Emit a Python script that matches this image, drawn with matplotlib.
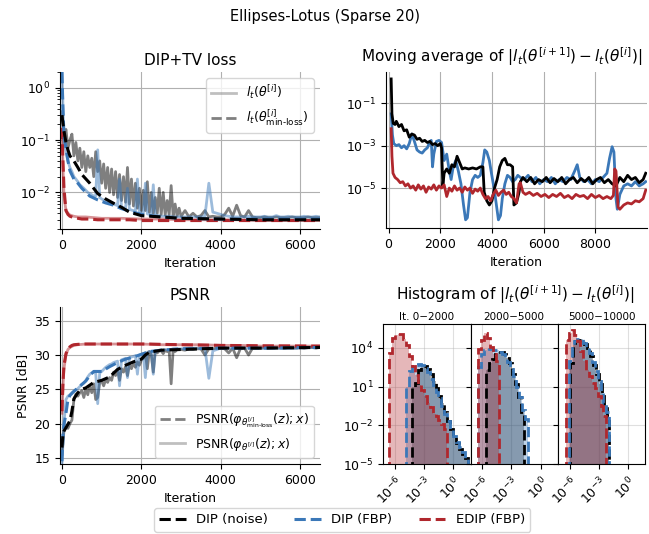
import numpy as np
import matplotlib
matplotlib.use("Agg")
import matplotlib.pyplot as plt
from matplotlib.lines import Line2D
from matplotlib.ticker import NullLocator

plt.rcParams["font.size"] = 9
plt.rcParams["axes.titlesize"] = 11
plt.rcParams["mathtext.fontset"] = "dejavusans"

C_NOISE = "black"
C_FBP = "#3b78b8"
C_EDIP = "#b0272d"

method_labels = ["DIP (noise)", "DIP (FBP)", "EDIP (FBP)"]

# ---------------------------------------------------------------- loss curves
# raw iterations shared by the DIP runs (dense early, coarser later)
it_raw = np.concatenate([np.arange(0, 3000, 50), np.arange(3000, 6501, 100)])

loss_raw_noise = [
    0.35, 0.12, 0.16, 0.07, 0.10, 0.13, 0.05, 0.09, 0.04, 0.07,
    0.03, 0.06, 0.025, 0.05, 0.03, 0.045, 0.02, 0.06, 0.025, 0.04,
    0.015, 0.035, 0.012, 0.03, 0.01, 0.028, 0.009, 0.025, 0.008, 0.022,
    0.007, 0.02, 0.0065, 0.03, 0.006, 0.018, 0.0055, 0.015, 0.005, 0.012,
    0.0045, 0.011, 0.0045, 0.016, 0.0042, 0.01, 0.004, 0.008, 0.004, 0.012,
    0.0038, 0.01, 0.0037, 0.007, 0.0037, 0.0135, 0.0036, 0.006, 0.0035, 0.005,
    0.0035, 0.0045, 0.0034, 0.004, 0.0034, 0.0036, 0.0045, 0.0034, 0.0035, 0.0034,
    0.0034, 0.0038, 0.005, 0.0035, 0.0057, 0.0036, 0.0034, 0.0045, 0.0034, 0.0033,
    0.0033, 0.0034, 0.0033, 0.0033, 0.0034, 0.0033, 0.0033, 0.0033, 0.0034, 0.0033,
    0.0033, 0.0033, 0.0034, 0.0033, 0.0033, 0.0033,
]
loss_raw_fbp = [
    2.0, 0.09, 0.06, 0.04, 0.03, 0.025, 0.02, 0.018, 0.016, 0.014,
    0.013, 0.012, 0.011, 0.010, 0.0095, 0.009, 0.0085, 0.0085, 0.065, 0.008,
    0.0075, 0.0072, 0.007, 0.0068, 0.0065, 0.0062, 0.006, 0.0058, 0.0056, 0.018,
    0.0053, 0.0051, 0.005, 0.012, 0.0048, 0.0046, 0.0045, 0.0044, 0.018, 0.0042,
    0.0041, 0.004, 0.015, 0.0039, 0.0038, 0.0038, 0.014, 0.0037, 0.0036, 0.0036,
    0.0035, 0.0035, 0.0035, 0.0035, 0.0035, 0.0035, 0.0034, 0.0034, 0.0034, 0.0034,
    0.0034, 0.0034, 0.0034, 0.0034, 0.0034, 0.0034, 0.0035, 0.015, 0.0042, 0.004,
    0.0038, 0.0036, 0.0035, 0.0034, 0.0034, 0.0034, 0.0034, 0.0035, 0.0034, 0.0034,
    0.0034, 0.0035, 0.0034, 0.0034, 0.0036, 0.0034, 0.0034, 0.0035, 0.0034, 0.0034,
    0.0034, 0.0035, 0.0034, 0.0034, 0.0035, 0.0034,
]
it_raw_edip = [0, 25, 50, 100, 150, 200, 300, 400, 600, 800, 1000, 1500, 2000,
               2500, 3000, 3500, 4000, 4500, 5000, 5500, 6000, 6500]
loss_raw_edip = [0.17, 0.03, 0.009, 0.0045, 0.004, 0.0037, 0.0035, 0.0034,
                 0.0034, 0.0033, 0.0032, 0.0032, 0.0031, 0.0031, 0.003, 0.003,
                 0.003, 0.003, 0.0029, 0.0029, 0.0029, 0.0029]

it_min = [0, 20, 50, 100, 150, 200, 300, 400, 500, 700, 900, 1100, 1300, 1500,
          1700, 2000, 2500, 3000, 4000, 5000, 6500]
loss_min_noise = [0.30, 0.22, 0.15, 0.09, 0.065, 0.05, 0.04, 0.03, 0.022, 0.015,
                  0.0095, 0.0075, 0.0062, 0.0052, 0.0042, 0.0036, 0.0034, 0.0032,
                  0.0031, 0.0030, 0.0030]
loss_min_fbp = [2.0, 0.5, 0.12, 0.07, 0.04, 0.026, 0.018, 0.015, 0.012, 0.0085,
                0.0072, 0.0063, 0.0057, 0.0049, 0.0044, 0.0038, 0.0034, 0.0032,
                0.0031, 0.0031, 0.0031]
loss_min_edip = [0.17, 0.05, 0.012, 0.0045, 0.0038, 0.0035, 0.0033, 0.0032,
                 0.0031, 0.0031, 0.0030, 0.0030, 0.0030, 0.0030, 0.0030, 0.0029,
                 0.0029, 0.0029, 0.0029, 0.0029, 0.0029]

# ---------------------------------------------------------------- PSNR curves
psnr_raw_noise = [
    15.5, 19.0, 19.5, 19.3, 20.0, 20.5, 23.5, 24.3, 24.0, 24.5,
    24.8, 23.8, 25.0, 24.2, 25.5, 24.5, 25.8, 23.5, 23.8, 26.0,
    26.2, 25.5, 26.4, 26.0, 26.7, 26.3, 27.5, 27.0, 27.8, 26.3,
    28.0, 27.5, 28.3, 27.0, 28.6, 28.0, 28.8, 28.2, 29.0, 28.5,
    29.3, 29.5, 30.3, 28.0, 30.5, 30.0, 27.5, 30.6, 30.3, 30.6,
    30.6, 30.2, 30.7, 30.5, 30.7, 25.8, 30.7, 30.5, 30.8, 30.8,
    30.8, 30.7, 30.9, 30.8, 30.9, 30.9, 30.0, 30.9, 30.9, 31.0,
    31.0, 30.9, 30.3, 31.0, 29.6, 31.0, 31.0, 30.0, 31.0, 31.0,
    31.0, 31.0, 31.0, 31.0, 31.0, 31.0, 31.0, 31.1, 31.0, 31.0,
    31.1, 31.0, 31.1, 31.1, 31.0, 31.1,
]
psnr_raw_fbp = [
    14.3, 20.0, 23.5, 24.0, 24.2, 24.5, 24.7, 24.9, 25.1, 25.4,
    25.7, 25.9, 26.3, 26.8, 27.2, 27.4, 27.5, 27.3, 22.9, 27.4,
    27.6, 27.9, 28.2, 28.4, 28.6, 28.7, 28.9, 29.0, 29.1, 25.5,
    29.3, 29.4, 29.5, 26.7, 29.6, 29.7, 29.8, 29.9, 27.2, 30.0,
    30.1, 30.2, 26.7, 30.4, 30.5, 30.5, 27.2, 30.6, 30.6, 30.7,
    30.7, 30.7, 30.8, 30.8, 30.8, 30.8, 30.9, 30.9, 30.9, 30.9,
    30.9, 31.0, 31.0, 31.0, 31.0, 31.0, 31.0, 26.6, 30.6, 30.8,
    31.0, 31.0, 31.0, 31.0, 31.0, 31.0, 31.0, 31.0, 31.0, 31.0,
    31.0, 31.0, 31.0, 31.0, 31.0, 31.0, 31.0, 31.0, 31.0, 31.0,
    31.1, 31.1, 31.1, 31.1, 31.1, 31.1,
]
psnr_raw_edip = [21.5, 25.5, 28.0, 30.0, 30.8, 31.1, 31.4, 31.5, 31.6, 31.6,
                 31.6, 31.6, 31.6, 31.5, 31.5, 31.5, 31.4, 31.4, 31.3, 31.3,
                 31.3, 31.3]

it_psnr_min = [0, 25, 50, 100, 150, 200, 250, 300, 400, 500, 600, 700, 800,
               1000, 1200, 1400, 1600, 1800, 2000, 2100, 2200, 2500, 3000,
               4000, 5000, 6500]
psnr_min_noise = [16.5, 18.5, 18.9, 19.4, 19.9, 20.4, 21.8, 23.6, 24.5, 25.0,
                  25.2, 25.6, 26.0, 26.3, 26.8, 27.9, 28.5, 29.0, 29.4, 30.0,
                  30.4, 30.7, 30.8, 31.0, 31.0, 31.1]
psnr_min_fbp = [14.5, 18.5, 19.8, 21.5, 23.5, 24.1, 24.4, 24.7, 25.2, 25.7,
                26.2, 27.0, 27.6, 27.6, 28.3, 28.9, 29.4, 29.7, 30.1, 30.3,
                30.5, 30.7, 30.9, 31.0, 31.0, 31.1]
psnr_min_edip = [21.8, 26.0, 28.5, 30.2, 30.9, 31.2, 31.4, 31.5, 31.55, 31.6,
                 31.6, 31.6, 31.6, 31.6, 31.6, 31.6, 31.6, 31.6, 31.6, 31.6,
                 31.6, 31.55, 31.5, 31.4, 31.35, 31.3]

# ------------------------------------ moving average (iteration, log10 value)
ma_noise = [
    (100, 0.15), (130, -1.5), (180, -1.95), (250, -2.0), (300, -1.85),
    (400, -2.1), (500, -2.0), (600, -2.3), (700, -2.25), (800, -2.6),
    (900, -2.45), (1000, -2.5), (1100, -2.7), (1200, -2.65), (1300, -2.8),
    (1400, -2.75), (1500, -2.85), (1600, -2.8), (1700, -2.95), (1800, -2.9),
    (1900, -3.0), (2000, -2.9), (2050, -3.1), (2100, -4.9), (2150, -4.3),
    (2250, -4.1), (2350, -4.3), (2450, -3.9), (2550, -4.0), (2650, -3.5),
    (2750, -3.8), (2850, -4.1), (2950, -4.05), (3100, -4.1), (3250, -4.05),
    (3400, -4.1), (3550, -4.0), (3650, -4.0), (3700, -5.2), (3800, -5.6),
    (3900, -5.8), (4000, -5.6), (4100, -5.0), (4200, -4.6), (4300, -4.0),
    (4400, -3.7), (4500, -3.6), (4600, -3.9), (4700, -3.9), (4800, -4.0),
    (4850, -5.8), (4950, -5.7), (5050, -5.2), (5100, -4.7), (5200, -4.5),
    (5350, -4.7), (5500, -4.5), (5650, -4.8), (5800, -4.6), (5950, -4.7),
    (6100, -4.5), (6250, -4.75), (6400, -4.55), (6550, -4.7), (6700, -4.5),
    (6850, -4.8), (7000, -4.6), (7150, -4.5), (7300, -4.75), (7450, -4.55),
    (7600, -4.7), (7750, -4.5), (7900, -4.8), (8050, -4.6), (8200, -4.5),
    (8350, -4.75), (8500, -4.6), (8650, -4.8), (8800, -4.9), (8950, -4.5),
    (9100, -4.7), (9250, -4.4), (9400, -4.6), (9550, -4.5), (9700, -4.75),
    (9850, -4.6), (9950, -4.3),
]
ma_fbp = [
    (100, -1.5), (150, -2.5), (200, -2.9), (300, -3.0), (400, -2.95),
    (500, -3.1), (600, -3.0), (700, -3.15), (800, -2.9), (900, -2.45),
    (1000, -2.8), (1100, -3.2), (1200, -3.3), (1300, -3.35), (1400, -3.2),
    (1500, -3.1), (1600, -2.8), (1650, -2.75), (1700, -4.0), (1750, -3.4),
    (1850, -2.8), (1950, -2.75), (2050, -2.85), (2150, -3.7), (2250, -3.4),
    (2350, -4.2), (2420, -4.6), (2500, -4.0), (2600, -3.7), (2700, -4.2),
    (2800, -4.8), (2900, -5.8), (2980, -6.5), (3050, -6.4), (3150, -5.2),
    (3250, -4.6), (3350, -4.4), (3450, -4.5), (3550, -4.4), (3650, -3.8),
    (3720, -3.2), (3800, -3.3), (3900, -3.7), (3980, -4.3), (4080, -5.0),
    (4150, -5.6), (4250, -6.5), (4330, -6.3), (4400, -5.5), (4500, -4.8),
    (4600, -4.4), (4700, -4.5), (4800, -4.7), (4900, -4.6), (5000, -4.4),
    (5100, -4.5), (5250, -4.6), (5400, -4.4), (5550, -4.7), (5700, -4.5),
    (5850, -4.8), (6000, -4.6), (6150, -4.7), (6300, -4.5), (6450, -4.8),
    (6600, -4.6), (6750, -4.7), (6900, -4.5), (7050, -4.6), (7200, -4.2),
    (7300, -3.9), (7400, -4.5), (7550, -4.7), (7700, -4.6), (7850, -4.8),
    (8000, -4.6), (8150, -4.7), (8300, -4.5), (8450, -4.3), (8550, -3.6),
    (8650, -3.05), (8720, -3.3), (8800, -5.5), (8850, -6.0), (8950, -5.3),
    (9100, -4.9), (9250, -4.8), (9400, -4.9), (9550, -4.7), (9700, -4.9),
    (9850, -4.8), (9950, -4.7),
]
ma_edip = [
    (100, -2.2), (130, -3.5), (170, -4.3), (250, -4.5), (350, -4.6),
    (450, -4.75), (550, -4.7), (650, -4.9), (750, -4.8), (850, -5.0),
    (950, -4.9), (1050, -5.1), (1150, -4.85), (1250, -5.05), (1350, -4.9),
    (1450, -5.2), (1550, -4.95), (1650, -5.05), (1750, -4.85), (1850, -5.1),
    (1950, -4.9), (2050, -5.0), (2150, -4.85), (2250, -5.4), (2350, -5.0),
    (2450, -5.15), (2550, -4.9), (2650, -5.1), (2750, -5.0), (2850, -5.2),
    (2950, -4.95), (3050, -5.1), (3150, -5.0), (3250, -5.25), (3350, -5.05),
    (3450, -5.15), (3550, -5.0), (3650, -5.3), (3750, -5.5), (3850, -5.4),
    (3950, -5.6), (4050, -5.3), (4150, -5.1), (4250, -5.35), (4350, -5.2),
    (4450, -5.1), (4550, -5.3), (4650, -5.2), (4750, -5.4), (4850, -5.5),
    (4950, -5.7), (5050, -4.8), (5100, -4.75), (5200, -5.2), (5300, -5.3),
    (5450, -5.2), (5600, -5.35), (5750, -5.25), (5900, -5.4), (6050, -5.3),
    (6200, -5.45), (6350, -5.3), (6500, -5.4), (6650, -5.25), (6800, -5.45),
    (6950, -5.35), (7100, -5.5), (7250, -5.3), (7400, -5.4), (7550, -5.35),
    (7700, -5.5), (7850, -5.3), (8000, -5.45), (8150, -5.35), (8300, -5.5),
    (8450, -5.4), (8600, -5.5), (8700, -5.35), (8750, -4.1), (8800, -4.2),
    (8880, -5.9), (8950, -6.0), (9100, -5.8), (9250, -5.7), (9400, -5.75),
    (9550, -5.6), (9700, -5.65), (9850, -5.5), (9950, -5.1),
]

# ------------------------------------------- histograms (log10 edges / density)
hist_titles = ["It. 0\u22122000", "2000\u22125000", "5000\u221210000"]

h1_edges_noise = [-4.2, -3.9, -3.6, -3.3, -3.0, -2.7, -2.4, -2.1, -1.8, -1.5,
                  -1.2, -0.9, -0.6, -0.3, 0.0, 0.3, 0.6, 0.9, 1.2, 1.5]
h1_noise = [1.0, 1.3, 2.3, 2.6, 2.6, 2.4, 2.0, 1.4, 0.9, 0.3, -0.3, -1.0,
            -1.7, -2.3, -2.9, -3.4, -3.8, -4.2, -4.5]
h1_edges_fbp = [-4.8, -4.5, -4.2, -3.9, -3.6, -3.3, -3.0, -2.7, -2.4, -2.1,
                -1.8, -1.5, -1.2, -0.9, -0.6, -0.3, 0.0, 0.3, 0.6, 0.9, 1.2, 1.5]
h1_fbp = [1.0, 2.2, 2.6, 2.7, 2.75, 2.7, 2.45, 2.1, 1.6, 1.1, 0.6, 0.1, -0.5,
          -1.1, -1.7, -2.3, -2.8, -3.3, -3.7, -4.1, -4.5]
h1_edges_edip = [-6.6, -6.3, -6.0, -5.7, -5.4, -5.1, -4.8, -4.5, -4.2, -3.9,
                 -3.6, -3.3, -3.0, -2.7, -2.4, -2.1, -1.8, -1.5, -1.2, -0.9, -0.6]
h1_edip = [3.6, 4.8, 5.0, 5.1, 5.05, 4.7, 4.2, 3.4, 2.6, 1.9, 1.1, 0.7, 0.3,
           -0.3, -0.6, -1.1, -1.3, -1.6, -1.9, -2.3]

h2_edges_noise = [-5.6, -5.3, -5.0, -4.7, -4.4, -4.1, -3.8, -3.5, -3.2, -2.9,
                  -2.6, -2.3, -2.0, -1.7]
h2_noise = [2.3, 2.8, 3.1, 3.5, 3.7, 3.65, 3.55, 3.2, 2.8, 2.0, 1.2, 0.2, -1.0]
h2_edges_fbp = [-6.4, -6.1, -5.8, -5.5, -5.2, -4.9, -4.6, -4.3, -4.0, -3.7,
                -3.4, -3.1, -2.8, -2.5, -2.2, -1.9, -1.6, -1.3]
h2_fbp = [2.5, 3.5, 3.8, 3.9, 3.9, 3.85, 3.8, 3.7, 3.5, 3.3, 2.9, 2.4, 1.8,
          1.0, 0.2, -0.8, -1.5]
h2_edges_edip = [-6.4, -6.1, -5.8, -5.5, -5.2, -4.9, -4.6, -4.3]
h2_edip = [3.9, 4.6, 5.15, 4.8, 4.1, 3.5, 3.0]

h3_edges_noise = [-6.0, -5.7, -5.4, -5.1, -4.8, -4.5, -4.2, -3.9, -3.6, -3.3,
                  -3.0, -2.7, -2.4, -2.1, -1.9]
h3_noise = [2.8, 4.2, 4.5, 4.6, 4.55, 4.3, 4.0, 3.4, 2.7, 2.0, 1.2, 0.3,
            -0.5, -1.3]
h3_edges_fbp = [-6.1, -5.8, -5.5, -5.2, -4.9, -4.6, -4.3, -4.0, -3.7, -3.4,
                -3.1, -2.8, -2.5, -2.2, -1.9]
h3_fbp = [3.0, 4.0, 4.5, 4.7, 4.65, 4.4, 4.1, 3.6, 2.9, 2.2, 1.4, 0.5, -0.3,
          -1.0]
h3_edges_edip = [-6.4, -6.1, -5.8, -5.5, -5.2, -4.9, -4.6, -4.3, -4.0, -3.7,
                 -3.4, -3.1, -2.8, -2.5, -2.2]
h3_edip = [4.6, 5.15, 5.4, 5.0, 4.5, 3.75, 3.0, 2.3, 1.8, 1.3, 0.9, 0.3,
           -0.5, -1.3]


def style_axes(ax):
    ax.spines[["top", "right"]].set_visible(False)
    ax.grid(True, color="#b0b0b0", lw=0.8)
    ax.set_axisbelow(True)


W, H = 649, 534
fig = plt.figure(figsize=(W / 100, H / 100), dpi=100)


def axes_px(left, top, right, bottom):
    return fig.add_axes([left / W, 1 - bottom / H, (right - left) / W, (bottom - top) / H])


fig.text(0.5, 1 - 17 / H, "Ellipses-Lotus (Sparse 20)", ha="center", va="center",
         fontsize=10.5)

# DIP+TV loss
ax = axes_px(60, 72, 320, 229)
style_axes(ax)
ax.plot(it_raw, loss_raw_noise, color=C_NOISE, lw=2, alpha=0.5)
ax.plot(it_raw, loss_raw_fbp, color=C_FBP, lw=2, alpha=0.5)
ax.plot(it_raw_edip, loss_raw_edip, color=C_EDIP, lw=2, alpha=0.5)
ax.plot(it_min, loss_min_edip, "--", color=C_EDIP, lw=2.2)
ax.plot(it_min, loss_min_fbp, "--", color=C_FBP, lw=2.2)
ax.plot(it_min, loss_min_noise, "--", color=C_NOISE, lw=2.2)
ax.set_yscale("log")
ax.set_ylim(2e-3, 2.0)
ax.set_xlim(-50, 6500)
ax.set_xticks([0, 2000, 4000, 6000])
ax.set_xlabel("Iteration")
ax.set_title("DIP+TV loss", pad=5)
ax.legend(handles=[
    Line2D([], [], color="gray", lw=2, alpha=0.5),
    Line2D([], [], color="gray", lw=2, ls="--"),
], labels=[r"$l_t(\theta^{[i]})$",
           r"$l_t(\theta^{[i]}_{\mathrm{min}\text{-}\mathrm{loss}})$"],
    loc="upper right", fontsize=9)

# moving average of the loss increments
ax = axes_px(386, 72, 647, 228)
style_axes(ax)
for pairs, color in [(ma_fbp, C_FBP), (ma_noise, C_NOISE), (ma_edip, C_EDIP)]:
    it, expo = np.array(pairs).T
    ax.plot(it, 10.0 ** expo, color=color, lw=2)
ax.set_yscale("log")
ax.set_ylim(1.3e-7, 3.0)
ax.set_yticks([1e-5, 1e-3, 1e-1])
ax.yaxis.set_minor_locator(NullLocator())
ax.set_xlim(-100, 10000)
ax.set_xticks([0, 2000, 4000, 6000, 8000])
ax.set_xlabel("Iteration")
ax.text(502 / W, 1 - 57 / H,
        r"Moving average of $|l_t(\theta^{[i+1]}) - l_t(\theta^{[i]})|$",
        transform=fig.transFigure, ha="center", va="center", fontsize=11)

# PSNR
ax = axes_px(60, 307, 320, 464)
style_axes(ax)
ax.plot(it_raw, psnr_raw_noise, color=C_NOISE, lw=2, alpha=0.5)
ax.plot(it_raw, psnr_raw_fbp, color=C_FBP, lw=2, alpha=0.5)
ax.plot(it_raw_edip, psnr_raw_edip, color=C_EDIP, lw=2, alpha=0.5)
ax.plot(it_psnr_min, psnr_min_edip, "--", color=C_EDIP, lw=2.2)
ax.plot(it_psnr_min, psnr_min_fbp, "--", color=C_FBP, lw=2.2)
ax.plot(it_psnr_min, psnr_min_noise, "--", color=C_NOISE, lw=2.2)
ax.set_ylim(14.1, 37)
ax.set_yticks([15, 20, 25, 30, 35])
ax.set_xlim(-50, 6500)
ax.set_xticks([0, 2000, 4000, 6000])
ax.set_xlabel("Iteration")
ax.set_ylabel("PSNR [dB]")
ax.set_title("PSNR", pad=5)
ax.legend(handles=[
    Line2D([], [], color="gray", lw=2, ls="--"),
    Line2D([], [], color="gray", lw=2, alpha=0.5),
], labels=[r"PSNR$(\varphi_{\theta^{[i]}_{\mathrm{min}\text{-}\mathrm{loss}}}(z); x)$",
           r"PSNR$(\varphi_{\theta^{[i]}}(z); x)$"],
    loc="lower right", fontsize=9)

# histograms of the loss increments per iteration window
windows = [
    [(h1_edges_noise, h1_noise), (h1_edges_fbp, h1_fbp), (h1_edges_edip, h1_edip)],
    [(h2_edges_noise, h2_noise), (h2_edges_fbp, h2_fbp), (h2_edges_edip, h2_edip)],
    [(h3_edges_noise, h3_noise), (h3_edges_fbp, h3_fbp), (h3_edges_edip, h3_edip)],
]
colors = [C_NOISE, C_FBP, C_EDIP]
x_bounds = [383, 470.5, 558, 645]
for k, series in enumerate(windows):
    ax = axes_px(x_bounds[k], 324, x_bounds[k + 1], 464)
    ax.grid(True, color="#b0b0b0", lw=0.8, alpha=0.4)
    ax.set_axisbelow(True)
    for (edges, dens), color in zip(series, colors):
        e = 10.0 ** np.array(edges)
        v = 10.0 ** np.array(dens)
        ax.stairs(v, e, baseline=1e-9, fill=True, color=color, alpha=0.33, lw=0)
    for (edges, dens), color in zip(series, colors):
        e = 10.0 ** np.array(edges)
        v = 10.0 ** np.array(dens)
        ax.stairs(v, e, baseline=1e-9, color=color, lw=2, ls="--")
    ax.set_xscale("log")
    ax.set_yscale("log")
    ax.set_xlim(10 ** -7.2, 10 ** 1.8)
    ax.set_ylim(1e-5, 10 ** 5.85)
    ax.set_xticks([1e-6, 1e-3, 1e0])
    ax.set_yticks([1e-5, 1e-2, 1e1, 1e4])
    ax.xaxis.set_minor_locator(NullLocator())
    ax.yaxis.set_minor_locator(NullLocator())
    for lab in ax.get_xticklabels():
        lab.set_rotation(45)
        lab.set_ha("right")
        lab.set_rotation_mode("anchor")
    if k > 0:
        ax.tick_params(labelleft=False)
    ax.set_title(hist_titles[k], fontsize=7.5, pad=3)
fig.text(515 / W, 1 - 295 / H,
         r"Histogram of $|l_t(\theta^{[i+1]}) - l_t(\theta^{[i]})|$",
         ha="center", va="center", fontsize=11)

handles = [Line2D([], [], color=c, lw=2.2, ls="--") for c in colors]
fig.legend(handles, method_labels, loc="lower center", ncol=3,
           bbox_to_anchor=(0.527, -0.008), fontsize=9.5)

fig.savefig("out.png", dpi=100)
